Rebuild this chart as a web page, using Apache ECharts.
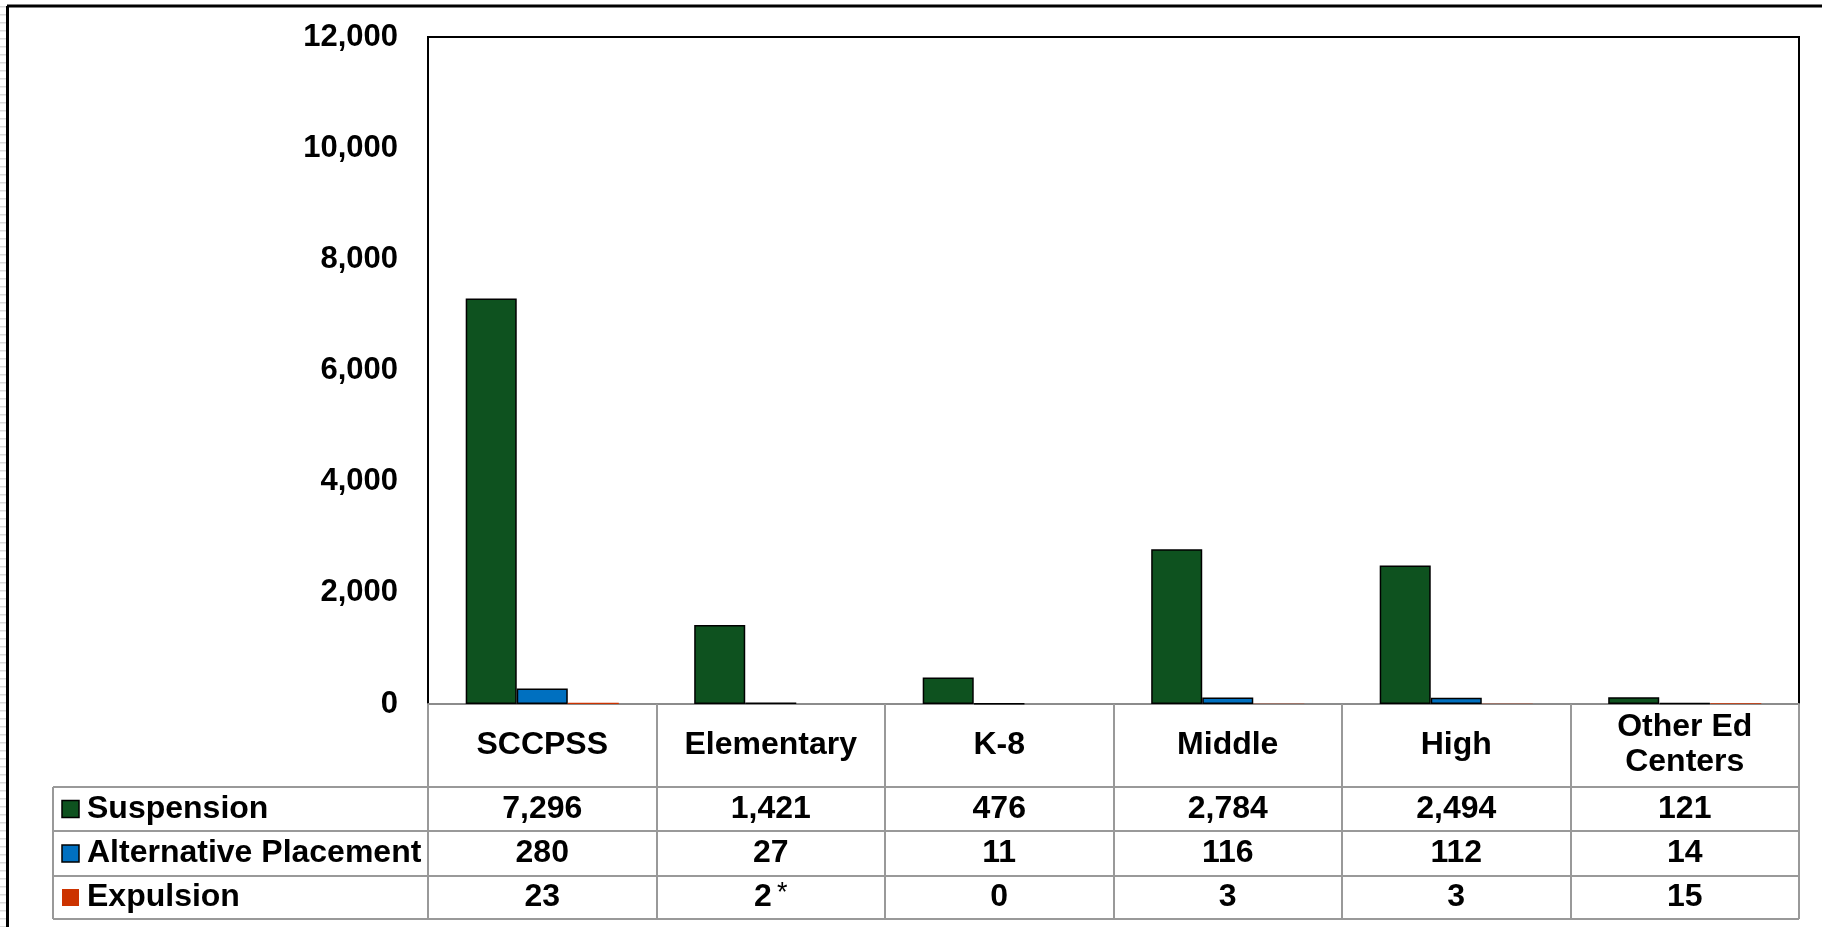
<!DOCTYPE html>
<html>
<head>
<meta charset="utf-8">
<script src="https://cdn.jsdelivr.net/npm/echarts@6/dist/echarts.min.js"></script>
<style>
html,body{margin:0;padding:0;background:#fff;}
#main{width:1822px;height:927px;}
</style>
</head>
<body>
<div id="main"></div>
<script>
// ---- data ----
const categories = ['SCCPSS', 'Elementary', 'K-8', 'Middle', 'High', 'Other Ed\nCenters'];
const seriesNames = ['Suspension', 'Alternative Placement', 'Expulsion'];
const suspension = [7296, 1421, 476, 2784, 2494, 121];
const alternativePlacement = [280, 27, 11, 116, 112, 14];
const expulsion = [23, 2, 0, 3, 3, 15];
const expulsionNotes = ['', '*', '', '', '', ''];
const yTicks = [0, 2000, 4000, 6000, 8000, 10000, 12000];

const seriesData = [suspension, alternativePlacement, expulsion];
const notes = [null, null, expulsionNotes];
const colors = ['#0E521F', '#0070C0', '#CC3300'];
const borders = [1.5, 1.5, 0];

const FONT = "'Liberation Sans', Arial, sans-serif";
const TXT = 32;
const W = 1822, H = 927;
const gridLeft = 428, gridTop = 37, gridRight = 1799, gridBottom = 704;
const rowTops = [787, 831, 876, 919];
const tableLeft = 53;

const chart = echarts.init(document.getElementById('main'), null, {renderer: 'canvas'});

const fmt = v => v.toLocaleString('en-US');

chart.setOption({
  animation: false,
  backgroundColor: '#fff',
  grid: {
    left: gridLeft, top: gridTop, right: W - gridRight, bottom: H - gridBottom,
    show: true, borderColor: '#000', borderWidth: 2, backgroundColor: 'transparent'
  },
  xAxis: {
    type: 'category',
    data: categories,
    axisLine: {show: true, lineStyle: {color: '#8c8c8c', width: 2}},
    axisTick: {show: true, interval: 0, length: rowTops[3] - gridBottom, lineStyle: {color: '#999', width: 2}},
    axisLabel: {
      interval: 0, margin: 41, verticalAlign: 'middle', lineHeight: 35,
      fontSize: TXT, fontWeight: 'bold', color: '#000', fontFamily: FONT
    },
    splitLine: {show: false}
  },
  yAxis: {
    type: 'value',
    min: yTicks[0], max: yTicks[yTicks.length - 1], interval: yTicks[1] - yTicks[0],
    axisLine: {show: true, lineStyle: {color: '#000', width: 2}},
    axisTick: {show: false},
    splitLine: {show: false},
    axisLabel: {
      margin: 30, fontSize: 31, fontWeight: 'bold', color: '#000', fontFamily: FONT,
      formatter: v => fmt(v)
    }
  },
  series: seriesNames.map((name, i) => ({
    name: name,
    type: 'bar',
    data: seriesData[i],
    barGap: '0%',
    barCategoryGap: '33%',
    itemStyle: {color: colors[i], borderColor: '#000', borderWidth: borders[i]}
  }))
});

// ---- table & decorations ----
const g = [];
const lineStyle = {stroke: '#999', lineWidth: 2};
rowTops.forEach(y => {
  g.push({type: 'line', shape: {x1: tableLeft, y1: y, x2: gridRight, y2: y}, style: lineStyle, z: 10});
});
g.push({type: 'line', shape: {x1: tableLeft, y1: rowTops[0], x2: tableLeft, y2: rowTops[3]}, style: lineStyle, z: 10});

const xCenters = categories.map(c => chart.convertToPixel({xAxisIndex: 0}, c));

seriesNames.forEach((name, r) => {
  const cy = (rowTops[r] + rowTops[r + 1]) / 2;
  g.push({
    type: 'rect', shape: {x: 62, y: cy - 8.5, width: 17, height: 17},
    style: {fill: colors[r], stroke: borders[r] ? '#000' : null, lineWidth: borders[r] ? 1.5 : 0}, z: 11
  });
  g.push({
    type: 'text', x: 87, y: cy,
    style: {text: name, fontSize: TXT, fontWeight: 'bold', fontFamily: FONT, fill: '#000', verticalAlign: 'middle', align: 'left'},
    z: 11
  });
  seriesData[r].forEach((v, c) => {
    const note = notes[r] ? notes[r][c] : '';
    g.push({
      type: 'text', x: xCenters[c], y: cy,
      style: {
        text: note ? '{v|' + fmt(v) + '}{s|' + note + '}' : fmt(v),
        fontSize: TXT, fontWeight: 'bold', fontFamily: FONT, fill: '#000',
        align: 'center', verticalAlign: 'middle',
        rich: {
          v: {fontSize: TXT, fontWeight: 'bold', fontFamily: FONT, fill: '#000', lineHeight: 34},
          s: {fontSize: 27, fontWeight: 'normal', fontFamily: FONT, fill: '#000', verticalAlign: 'top', padding: [0, 0, 0, 5], lineHeight: 34}
        }
      },
      z: 11
    });
  });
});

// outer frame (top & left visible)
g.push({type: 'line', shape: {x1: 7, y1: 6, x2: W, y2: 6}, style: {stroke: '#000', lineWidth: 3}, z: 12});
g.push({type: 'line', shape: {x1: 7.5, y1: 6, x2: 7.5, y2: H}, style: {stroke: '#000', lineWidth: 3}, z: 12});
for (let y = 6; y < H; y += 8) {
  g.push({type: 'rect', shape: {x: 0, y: y, width: 6, height: 1.5}, style: {fill: '#d9d9d9'}, z: 1});
}

chart.setOption({graphic: g});
</script>
</body>
</html>
